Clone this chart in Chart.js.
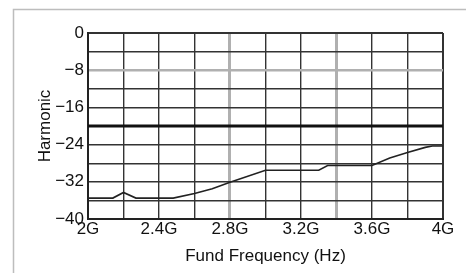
<!DOCTYPE html>
<html>
<head>
<meta charset="utf-8">
<script src="https://cdn.jsdelivr.net/npm/chart.js@4/dist/chart.umd.min.js"></script>
<style>
  html, body { margin: 0; padding: 0; background: #fff; }
  canvas { display: block; }
</style>
</head>
<body>
<canvas id="c" width="466" height="273"></canvas>
<script>
// Data
const freqGHz = [2.00, 2.14, 2.20, 2.27, 2.48, 2.60, 2.70, 2.80, 3.00, 3.30, 3.35, 3.60, 3.70, 3.80, 3.90, 3.94, 4.00];
const harmonic = [-35.5, -35.5, -34.3, -35.5, -35.5, -34.5, -33.5, -32.1, -29.5, -29.5, -28.5, -28.5, -26.9, -25.7, -24.6, -24.3, -24.3];
const limitFreq = [2.0, 4.0];
const limitValue = [-20, -20];
const xTickLabels = ["2G", "", "2.4G", "", "2.8G", "", "3.2G", "", "3.6G", "", "4G"];
const yTickLabels = {"0": "0", "-8": "\u22128", "-16": "\u221216", "-24": "\u221224", "-32": "\u221232", "-40": "\u221240"};
const xTitle = "Fund Frequency (Hz)";
const yTitle = "Harmonic";

const FONT = "'Liberation Sans', Arial, sans-serif";
const INK = '#111';

const framePlugin = {
  id: 'frame',
  beforeDraw(chart) {
    const ctx = chart.ctx;
    ctx.save();
    ctx.strokeStyle = '#bdbdbd';
    ctx.lineWidth = 1.5;
    ctx.beginPath();
    ctx.moveTo(13.5, 273);
    ctx.lineTo(13.5, 9.5);
    ctx.lineTo(466, 9.5);
    ctx.stroke();
    ctx.restore();
  }
};

new Chart(document.getElementById('c'), {
  type: 'scatter',
  data: {
    datasets: [
      {
        data: limitFreq.map((f, i) => ({x: f, y: limitValue[i]})),
        showLine: true, borderColor: '#111', borderWidth: 3, pointRadius: 0, tension: 0
      },
      {
        data: freqGHz.map((f, i) => ({x: f, y: harmonic[i]})),
        showLine: true, borderColor: '#222', borderWidth: 1.6, pointRadius: 0, tension: 0
      }
    ]
  },
  options: {
    responsive: false,
    animation: false,
    layout: { padding: { top: 33, right: 23, left: 0, bottom: 0 } },
    plugins: { legend: { display: false }, tooltip: { enabled: false } },
    scales: {
      x: {
        type: 'linear', min: 2, max: 4,
        afterFit(s) { s.height = 54; },
        afterBuildTicks(s) { s.ticks = xTickLabels.map((_, i) => ({value: 2 + i * 0.2})); },
        ticks: {
          autoSkip: false, maxRotation: 0, padding: 0,
          color: INK, font: { family: FONT, size: 17 },
          callback: (v, i) => xTickLabels[i]
        },
        grid: {
          drawTicks: false,
          color: ctx => (ctx.index === 4 || ctx.index === 7) ? '#b0b0b0' : '#333',
          lineWidth: ctx => (ctx.index === 4 || ctx.index === 7) ? 3 : ((ctx.index === 0 || ctx.index === 10) ? 2 : 1.4)
        },
        border: { display: true, color: '#222', width: 2 },
        title: {
          display: true, text: xTitle, color: INK,
          font: { family: FONT, size: 17 }, padding: { top: 0, bottom: 6 }
        }
      },
      y: {
        type: 'linear', min: -40, max: 0,
        afterFit(s) { s.width = 88; },
        afterBuildTicks(s) { const t = []; for (let v = -40; v <= 0; v += 4) t.push({value: v}); s.ticks = t; },
        ticks: {
          autoSkip: false, padding: 4,
          color: INK, font: { family: FONT, size: 17 },
          callback: v => (yTickLabels[String(v)] !== undefined ? yTickLabels[String(v)] : '')
        },
        grid: {
          drawTicks: false,
          color: ctx => (ctx.tick && ctx.tick.value === -8) ? '#b0b0b0' : '#333',
          lineWidth: ctx => (ctx.tick && ctx.tick.value === -8) ? 2.5 : ((ctx.tick && (ctx.tick.value === 0 || ctx.tick.value === -40)) ? 2 : 1.4)
        },
        border: { display: true, color: '#222', width: 2 },
        title: {
          display: true, text: yTitle, color: INK,
          font: { family: FONT, size: 17 }, padding: { top: 35, bottom: 0 }
        }
      }
    }
  },
  plugins: [framePlugin]
});
</script>
</body>
</html>
